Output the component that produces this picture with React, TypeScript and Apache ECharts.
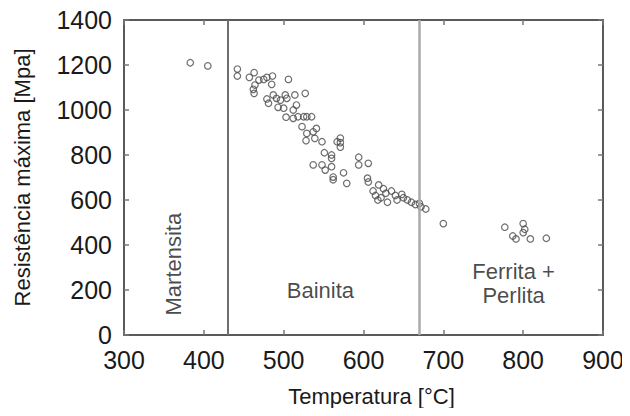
import React, { useEffect, useRef } from "react";
import * as echarts from "echarts";

const xTicks = [300, 400, 500, 600, 700, 800, 900];
const yTicks = [0, 200, 400, 600, 800, 1000, 1200, 1400];

// Temperatura [°C], Resistência máxima [Mpa]
const martensita: number[][] = [
  [383, 1210], [405, 1196],
];

const bainita: number[][] = [
  [442, 1182], [442, 1151], [457, 1145], [463, 1166], [469, 1133], [475, 1136], [479, 1145], [486, 1151], [506, 1136],
  [464, 1111], [462, 1092], [463, 1074], [485, 1114], [479, 1049], [487, 1067], [481, 1030], [491, 1052], [496, 1044],
  [502, 1067], [504, 1052], [493, 1012], [500, 1008], [503, 968], [514, 1067], [527, 1074], [512, 1000], [516, 1022],
  [518, 970], [525, 970], [529, 970], [535, 970], [512, 963], [523, 926], [529, 896], [537, 903], [541, 918],
  [528, 864], [539, 874], [548, 859], [551, 810], [560, 800], [560, 785], [567, 859], [571, 875], [571, 855],
  [571, 835], [537, 756], [548, 756], [552, 733], [560, 748], [562, 702], [562, 690], [575, 721], [579, 674],
  [594, 790], [594, 756], [606, 763], [605, 697], [606, 680], [619, 667],
  [612, 640], [615, 620], [618, 600], [622, 610], [625, 650], [628, 630], [630, 590], [635, 640], [640, 620],
  [642, 600], [648, 625], [650, 610], [655, 600], [660, 590], [665, 580], [670, 585], [672, 570], [678, 560],
];

const ferritaPerlita: number[][] = [
  [700, 495], [777, 479], [787, 440], [791, 427], [800, 495], [802, 470], [800, 455], [809, 427], [829, 430],
];

const boundaries = [430, 670];

const regionLabels = [
  { name: "Martensita", value: [362, 315], rotate: 90 },
  { name: "Bainita", value: [546, 200], rotate: 0 },
  { name: "Ferrita +\nPerlita", value: [788, 227], rotate: 0 },
];

const FONT = "Liberation Sans, Arial, sans-serif";
const TEXT = "#1a1a1a";
const FRAME = "#5a5a5a";

export default function App() {
  const ref = useRef<HTMLDivElement>(null);

  useEffect(() => {
    if (!ref.current) return;
    const chart = echarts.init(ref.current, undefined, { renderer: "svg" });

    const axisCommon = {
      type: "value" as const,
      splitLine: { show: false },
      axisLine: { show: true, onZero: false, lineStyle: { color: FRAME, width: 2 } },
      axisTick: { show: true, inside: true, length: 5, lineStyle: { color: "#777", width: 1.5 } },
    };

    const plain = (v: number) => String(v);

    chart.setOption({
      animation: false,
      backgroundColor: "#ffffff",
      textStyle: { fontFamily: FONT },
      grid: { left: 124, right: 27, top: 20, bottom: 81, containLabel: false },
      xAxis: [
        {
          ...axisCommon,
          position: "bottom",
          min: xTicks[0],
          max: xTicks[xTicks.length - 1],
          interval: 100,
          axisLabel: { fontSize: 25, color: TEXT, margin: 12, fontFamily: FONT, formatter: plain },
          name: "Temperatura [°C]",
          nameLocation: "middle",
          nameGap: 50,
          nameTextStyle: { fontSize: 22, color: TEXT, fontFamily: FONT, padding: [0, 0, 0, 16] },
        },
        {
          ...axisCommon,
          position: "top",
          min: xTicks[0],
          max: xTicks[xTicks.length - 1],
          interval: 100,
          axisLabel: { show: false },
        },
      ],
      yAxis: [
        {
          ...axisCommon,
          position: "left",
          min: yTicks[0],
          max: yTicks[yTicks.length - 1],
          interval: 200,
          axisLabel: { fontSize: 25, color: TEXT, margin: 12, fontFamily: FONT, formatter: plain },
          name: "Resistência máxima [Mpa]",
          nameLocation: "middle",
          nameGap: 91,
          nameTextStyle: { fontSize: 22, color: TEXT, fontFamily: FONT },
        },
        {
          ...axisCommon,
          position: "right",
          min: yTicks[0],
          max: yTicks[yTicks.length - 1],
          interval: 200,
          axisLabel: { show: false },
        },
      ],
      series: [
        {
          type: "scatter",
          name: "Resistência",
          data: [...martensita, ...bainita, ...ferritaPerlita],
          symbol: "circle",
          symbolSize: 6.5,
          itemStyle: { color: "rgba(255,255,255,0)", borderColor: "#4a4a4a", borderWidth: 1.2 },
          markLine: {
            silent: true,
            symbol: "none",
            label: { show: false },
            data: [
              { xAxis: boundaries[0], lineStyle: { color: "#6e6e6e", width: 2, type: "solid" } },
              { xAxis: boundaries[1], lineStyle: { color: "#aaaaaa", width: 2.5, type: "solid" } },
            ],
          },
          z: 3,
        },
        {
          type: "scatter",
          name: "labels",
          symbolSize: 0,
          silent: true,
          data: regionLabels.map((r) => ({
            name: r.name,
            value: r.value,
            label: {
              show: true,
              position: "inside",
              formatter: r.name,
              rotate: r.rotate,
              fontSize: 22,
              color: TEXT,
              fontFamily: FONT,
              lineHeight: 24,
              align: "center",
              verticalAlign: "middle",
            },
          })),
          z: 4,
        },
      ],
    });

    return () => chart.dispose();
  }, []);

  return <div ref={ref} style={{ width: 630, height: 416, margin: -8 }} />;
}
